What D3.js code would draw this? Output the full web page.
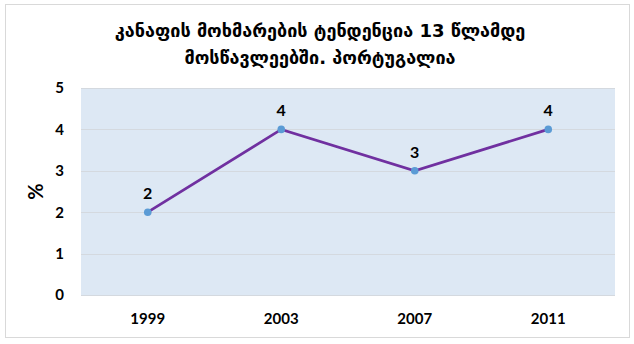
<!DOCTYPE html>
<html>
<head>
<meta charset="utf-8">
<title>კანაფის მოხმარების ტენდენცია</title>
<script src="https://cdnjs.cloudflare.com/ajax/libs/d3/7.8.5/d3.min.js"></script>
<style>
  html, body { margin: 0; padding: 0; background: #fff; }
  svg { display: block; }
  .num { font-family: Lato, "Open Sans", sans-serif; font-weight: bold; fill: #000; }
</style>
</head>
<body>
<div id="chart"></div>
<script>
  // chart data
  var years = ["1999", "2003", "2007", "2011"];
  var values = [2, 4, 3, 4];
  var yTicks = [0, 1, 2, 3, 4, 5];
  var titleLines = ["კანაფის მოხმარების ტენდენცია 13 წლამდე", "მოსწავლეებში. პორტუგალია"];

  var W = 634, H = 344;
  var plot = { left: 81, right: 615, top: 88, bottom: 295 };

  var svg = d3.select("#chart").append("svg").attr("width", W).attr("height", H);

  // outer chart frame
  svg.append("rect")
    .attr("x", 5.5).attr("y", 4.5).attr("width", 624).attr("height", 333)
    .attr("fill", "#fff").attr("stroke", "#d9d9d9").attr("stroke-width", 1);

  var x = d3.scaleBand().domain(years).range([plot.left, plot.right]);
  var y = d3.scaleLinear().domain([0, 5]).range([plot.bottom, plot.top]);

  // plot background
  svg.append("rect")
    .attr("x", plot.left).attr("y", plot.top)
    .attr("width", plot.right - plot.left).attr("height", plot.bottom - plot.top)
    .attr("fill", "#dde8f4");

  // gridlines
  svg.append("g").selectAll("line").data(yTicks).enter().append("line")
    .attr("x1", plot.left).attr("x2", plot.right)
    .attr("y1", function (d) { return Math.round(y(d)) + 0.5; })
    .attr("y2", function (d) { return Math.round(y(d)) + 0.5; })
    .attr("stroke", "#d4d9df").attr("stroke-width", 1);

  // y axis labels
  var yAxis = svg.append("g").attr("transform", "translate(" + (plot.left - 17) + ",0)")
    .call(d3.axisLeft(y).tickValues(yTicks).tickFormat(d3.format("d")).tickSize(0).tickPadding(0));
  yAxis.select(".domain").remove();
  yAxis.selectAll("text").attr("class", "num").style("font-size", "15px");

  // x axis labels
  var xAxis = svg.append("g").attr("transform", "translate(0," + (plot.bottom + 18) + ")")
    .call(d3.axisBottom(x).tickSize(0).tickPadding(0));
  xAxis.select(".domain").remove();
  xAxis.selectAll("text").attr("class", "num").style("font-size", "15px");

  // y title
  svg.append("text")
    .attr("class", "num")
    .attr("transform", "translate(43," + ((plot.top + plot.bottom) / 2) + ") rotate(-90)")
    .attr("text-anchor", "middle")
    .style("font-size", "20px")
    .text("%");

  // chart title
  svg.append("g").selectAll("text").data(titleLines).enter().append("text")
    .attr("x", 320)
    .attr("y", function (d, i) { return 37 + i * 27; })
    .attr("text-anchor", "middle")
    .style("font-family", "'DejaVu Sans', sans-serif")
    .style("font-weight", "bold")
    .style("font-size", "18px")
    .text(function (d) { return d; });

  var cx = function (d, i) { return x(years[i]) + x.bandwidth() / 2; };

  // line
  var line = d3.line()
    .x(function (d, i) { return cx(d, i); })
    .y(function (d) { return y(d); });

  svg.append("path")
    .datum(values)
    .attr("d", line)
    .attr("fill", "none")
    .attr("stroke", "#7030a0")
    .attr("stroke-width", 2.75);

  // markers
  svg.append("g").selectAll("circle").data(values).enter().append("circle")
    .attr("cx", cx)
    .attr("cy", function (d) { return y(d); })
    .attr("r", 3.8)
    .attr("fill", "#5b9bd5");

  // data labels
  svg.append("g").selectAll("text").data(values).enter().append("text")
    .attr("class", "num")
    .attr("x", cx)
    .attr("y", function (d) { return y(d) - 13; })
    .attr("text-anchor", "middle")
    .style("font-size", "16px")
    .text(function (d) { return d; });
</script>
</body>
</html>
